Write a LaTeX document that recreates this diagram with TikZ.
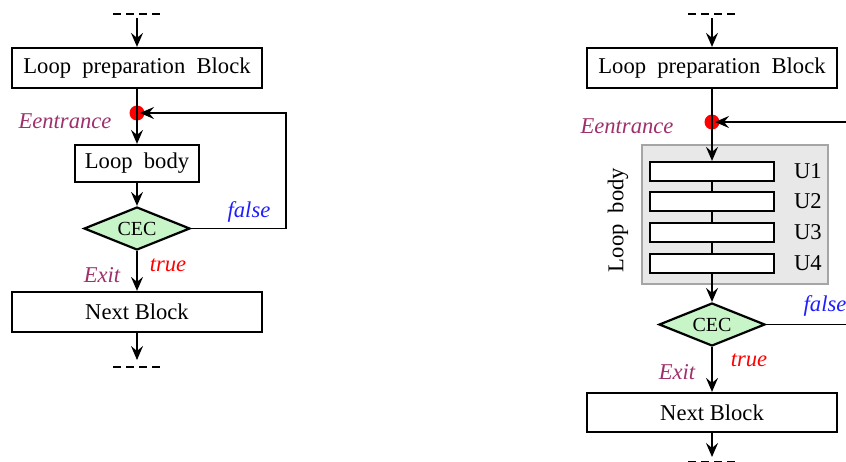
\documentclass[tikz,border=0pt]{standalone}
\usepackage{fontspec}
\setmainfont{Liberation Serif}
\usetikzlibrary{shapes.geometric,arrows.meta}
\definecolor{labpurple}{RGB}{158,48,108}
\definecolor{labblue}{RGB}{30,30,255}
\definecolor{labred}{RGB}{255,0,0}
\definecolor{decfill}{RGB}{200,245,200}
\definecolor{grpfill}{RGB}{232,232,232}
\definecolor{grpdraw}{RGB}{165,165,165}
\tikzset{
  blk/.style={draw, line width=1.1pt, rectangle, inner sep=0pt, font=\fontsize{11.3}{13}\selectfont},
  dec/.style={draw, line width=1.1pt, shape=diamond, fill=decfill, inner sep=0pt, shape aspect=2.4,
              minimum width=53pt, minimum height=21.5pt, font=\fontsize{10}{12}\selectfont},
  ubox/.style={draw, line width=1.1pt, fill=white, minimum width=62pt, minimum height=9.5pt, inner sep=0pt},
  grp/.style={draw=grpdraw, line width=0.6pt, fill=grpfill, minimum width=93pt, minimum height=69.5pt, inner sep=0pt},
  junct/.style={circle, fill=red, minimum size=7.5pt, inner sep=0pt},
  lab/.style={font=\fontsize{11.3}{13}\selectfont\itshape},
  txt/.style={font=\fontsize{11.3}{13}\selectfont},
  flow/.style={line width=0.9pt, -{Stealth[length=7pt,width=6pt,inset=2.5pt]}},
  plain/.style={line width=0.9pt},
  thin/.style={line width=0.7pt},
  gap/.style={line width=0.8pt, dash pattern=on 4pt off 2.5pt},
}
\newcommand{\wsp}{\hspace{0.5em}}
\begin{document}
\begin{tikzpicture}[x=0.5pt,y=-0.5pt]
\useasboundingbox (0,0) rectangle (846,461);
\clip (0,0) rectangle (846,461);

% ---------- first flow chart ----------
\coordinate (Ltop) at (137,18);
\coordinate (LtopA) at (113,14);
\coordinate (LtopB) at (161,14);
\draw[gap] (LtopA) -- (LtopB);
\node[blk, minimum width=125pt, minimum height=20pt] (Lprep) at (137,68) {Loop\wsp preparation\wsp Block};
\node[junct] (Ldot) at (137,113) {};
\node[blk, minimum width=62pt, minimum height=18.5pt] (Lbody) at (137,163.5) {Loop\wsp body};
\node[dec] (Lcec) at (137,228.5) {CEC};
\node[blk, minimum width=125pt, minimum height=20pt] (Lnext) at (137,312) {Next Block};
\coordinate (Lbot) at (137,360);
\coordinate (LbotA) at (113,367);
\coordinate (LbotB) at (161,367);
\draw[gap] (LbotA) -- (LbotB);
\coordinate (Lr1) at (286,228.5);
\coordinate (Lr2) at (286,113);

\draw[flow] (Ltop) -- (Lprep);
\draw[plain] (Lprep.south) -- (Ldot.center);
\draw[flow] (Ldot.center) -- (Lbody);
\draw[flow] (Lbody) -- (Lcec);
\draw[flow, shorten >=1.5pt] (Lcec.east) -- (Lr1) -- (Lr2) -- (Ldot.center);
\draw[flow] (Lcec) -- (Lnext);
\draw[flow] (Lnext) -- (Lbot);

\node[lab, text=labpurple] (Lent) at (65,121) {Eentrance};
\node[lab, text=labblue] (Lfalse) at (249,212) {false};
\node[lab, text=labred] (Ltrue) at (168,265) {true};
\node[lab, text=labpurple] (Lexit) at (102,275) {Exit};

% ---------- second flow chart (unrolled body) ----------
\coordinate (Rtop) at (712,18);
\coordinate (RtopA) at (688,14);
\coordinate (RtopB) at (736,14);
\draw[gap] (RtopA) -- (RtopB);
\node[blk, minimum width=125pt, minimum height=20pt] (Rprep) at (712,68) {Loop\wsp preparation\wsp Block};
\node[grp] (Rgrp) at (735,214.5) {};
\node[junct] (Rdot) at (712,122) {};
\node[ubox] (U1) at (712,171.5) {};
\node[ubox] (U2) at (712,201.5) {};
\node[ubox] (U3) at (712,232.5) {};
\node[ubox] (U4) at (712,263.5) {};
\node[txt, anchor=west] (U1l) at (787,171.5) {U1};
\node[txt, anchor=west] (U2l) at (787,201.5) {U2};
\node[txt, anchor=west] (U3l) at (787,232.5) {U3};
\node[txt, anchor=west] (U4l) at (787,263.5) {U4};
\node[txt, rotate=90] (Rbody) at (618,220) {Loop\wsp body};
\node[dec] (Rcec) at (712,324.5) {CEC};
\node[blk, minimum width=125pt, minimum height=19.5pt] (Rnext) at (712,412.5) {Next Block};
\coordinate (Rbot) at (712,457);
\coordinate (RbotA) at (688,462);
\coordinate (RbotB) at (736,462);
\draw[gap] (RbotA) -- (RbotB);
\coordinate (Rr1) at (880,324.5);
\coordinate (Rr2) at (880,122);

\draw[flow] (Rtop) -- (Rprep);
\draw[plain] (Rprep.south) -- (Rdot.center);
\draw[flow] (Rdot.center) -- (U1);
\draw[thin] (U1) -- (U2);
\draw[thin] (U2) -- (U3);
\draw[thin] (U3) -- (U4);
\draw[flow] (U4) -- (Rcec);
\draw[flow, shorten >=1.5pt] (Rcec.east) -- (Rr1) -- (Rr2) -- (Rdot.center);
\draw[flow] (Rcec) -- (Rnext);
\draw[flow] (Rnext) -- (Rbot);

\node[lab, text=labpurple] (Rent) at (627,126) {Eentrance};
\node[lab, text=labblue] (Rfalse) at (825,306) {false};
\node[lab, text=labred] (Rtrue) at (749,360) {true};
\node[lab, text=labpurple] (Rexit) at (677,372) {Exit};
\end{tikzpicture}
\end{document}
